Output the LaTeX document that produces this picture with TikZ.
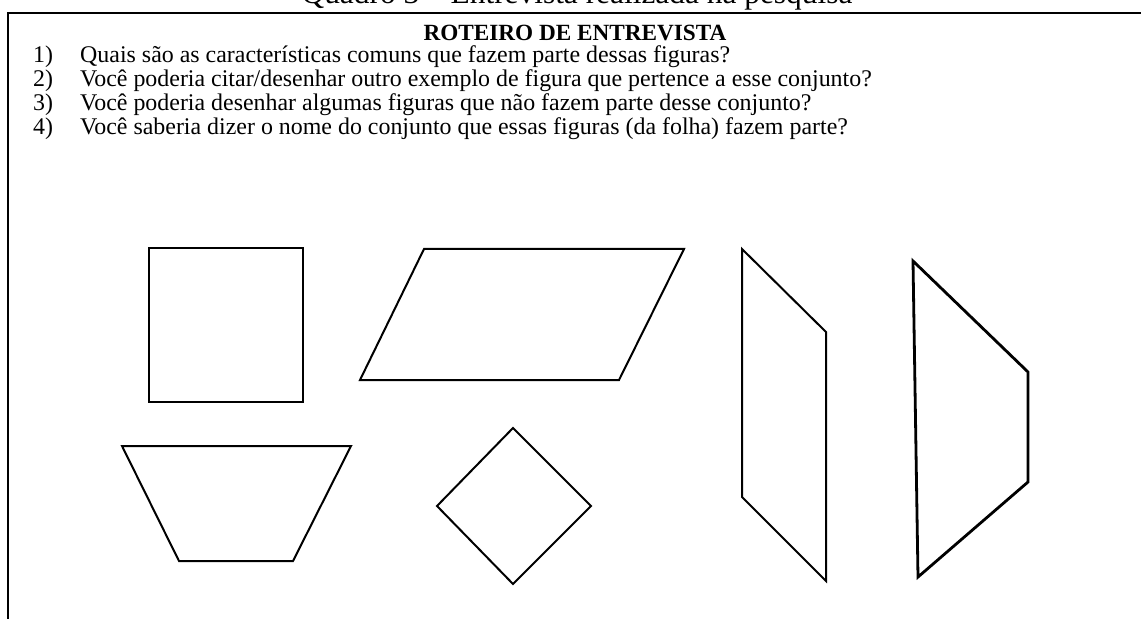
\documentclass[tikz,border=0pt]{standalone}
\usepackage{fontspec}
\setmainfont{Liberation Serif}
\tikzset{
  figline/.style={draw=black, line width=2bp, line join=miter},
  thickfig/.style={draw=black, line width=2.8bp, line join=miter},
  frameline/.style={draw=black, line width=2.5bp},
  item/.style={anchor=base west, inner sep=0pt, font=\fontsize{24}{28}\selectfont},
  num/.style={anchor=base west, inner sep=0pt, font=\fontsize{24}{28}\selectfont},
}
\begin{document}
\begin{tikzpicture}[x=1bp, y=-1bp]
\useasboundingbox (0,0) rectangle (1141,619);
\clip (0,0) rectangle (1141,619);
% caption (cut off at top)
\node[anchor=base, inner sep=0pt, font=\fontsize{31.5}{36}\selectfont] (caption) at (577,4) {Quadro 3 -- Entrevista realizada na pesquisa};
% frame
\draw[frameline] (8,640) -- (8,13) -- (1150,13);
% heading
\node[anchor=base, inner sep=0pt, font=\bfseries\fontsize{23.3}{28}\selectfont] (head) at (575,41) {ROTEIRO DE ENTREVISTA};
% items
\node[num] (n1) at (33,63) {1)};
\node[item] (t1) at (80,63) {Quais são as características comuns que fazem parte dessas figuras?};
\node[num] (n2) at (33,87) {2)};
\node[item] (t2) at (80,87) {Você poderia citar/desenhar outro exemplo de figura que pertence a esse conjunto?};
\node[num] (n3) at (33,111) {3)};
\node[item] (t3) at (80,111) {Você poderia desenhar algumas figuras que não fazem parte desse conjunto?};
\node[num] (n4) at (33,135) {4)};
\node[item] (t4) at (80,135) {Você saberia dizer o nome do conjunto que essas figuras (da folha) fazem parte?};
% figures
\draw[figline] (149,248) -- (303,248) -- (303,402) -- (149,402) -- cycle;
\draw[figline] (424,249) -- (684,249) -- (619,380) -- (360,380) -- cycle;
\draw[figline] (742,249) -- (826,332) -- (826,581) -- (742,497) -- cycle;
\draw[thickfig] (913,261) -- (1028,372) -- (1028,482) -- (918,577) -- cycle;
\draw[figline] (122,446) -- (351,446) -- (293,561) -- (179,561) -- cycle;
\draw[figline] (513,428) -- (591,506) -- (513,584) -- (437,506) -- cycle;
\end{tikzpicture}
\end{document}
